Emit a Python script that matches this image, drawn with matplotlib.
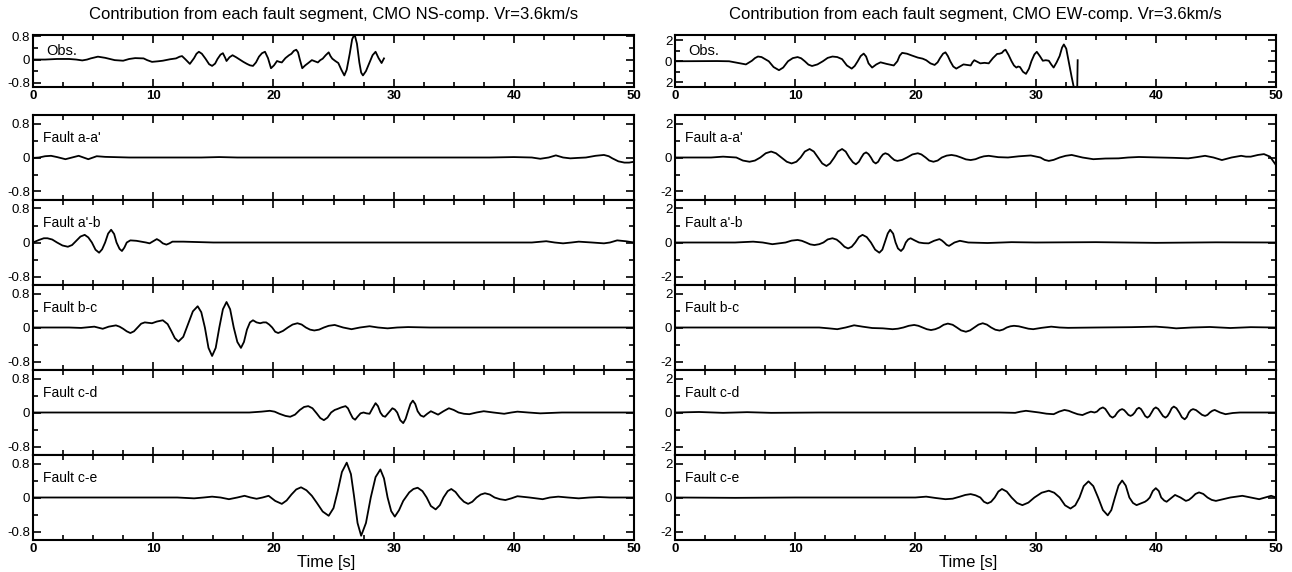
import matplotlib
matplotlib.use("Agg")
import matplotlib.pyplot as plt
from matplotlib.ticker import MultipleLocator, FixedLocator

# ---- NS component (left) ----
ns_obs_t = [0, 1, 2, 3, 3.6, 4.1, 4.5, 4.8, 5.4, 6.0, 6.8, 7.5, 8.0, 8.5, 9.2, 9.5, 9.9, 10.4, 10.8, 11.4,
            11.9, 12.2, 12.4, 12.7, 13.05, 13.4, 13.6, 13.8, 14.05, 14.35, 14.65, 14.9, 15.15, 15.35, 15.6,
            15.8, 16.0, 16.1, 16.35, 16.6, 16.9, 17.2, 17.5, 17.8, 18.05, 18.3, 18.55, 18.8, 19.05, 19.3,
            19.55, 19.8, 20.05, 20.3, 20.5, 20.7, 21.0, 21.3, 21.5, 21.7, 21.9, 22.05, 22.2, 22.4, 22.65,
            22.9, 23.2, 23.45, 23.7, 23.9, 24.1, 24.35, 24.6, 24.75, 24.9, 25.15, 25.4, 25.65, 25.9, 26.1,
            26.35, 26.55, 26.75, 26.95, 27.15, 27.3, 27.45, 27.7, 28.0, 28.25, 28.5, 28.75, 29.0, 29.2]
ns_obs_v = [0, 0, 0.02, 0.02, 0, -0.03, 0, 0.04, 0.1, 0.06, -0.02, -0.04, 0.02, 0.05, 0.04, -0.02, -0.08,
            -0.06, -0.04, 0.01, 0.04, 0.1, 0.12, 0.0, -0.15, 0.05, 0.2, 0.27, 0.2, 0.03, -0.16, -0.22, -0.14,
            0.02, 0.17, 0.22, 0.05, -0.05, 0.08, 0.15, 0.08, 0.0, -0.08, -0.15, -0.2, -0.22, -0.1, 0.1, 0.22,
            0.27, 0.05, -0.3, -0.2, -0.05, -0.08, -0.1, 0.05, 0.15, 0.2, 0.3, 0.34, 0.25, 0.0, -0.3, -0.2,
            -0.12, -0.02, -0.06, -0.1, -0.02, 0.03, 0.15, 0.25, 0.12, 0.03, -0.05, -0.12, -0.35, -0.55,
            -0.35, 0.2, 0.7, 0.88, 0.55, -0.1, -0.45, -0.55, -0.4, -0.1, 0.15, 0.27, 0.05, -0.12, 0.04]

ns_aa_t = [0, 0.5, 1.0, 1.5, 2.0, 2.7, 3.25, 3.8, 4.2, 4.6, 5.0, 5.3, 6.0, 8, 10, 12, 14, 15.5, 17, 20,
           25, 30, 35, 38, 40, 41.5, 42.2, 42.9, 43.5, 44.1, 44.7, 45.3, 46.0, 46.8, 47.5, 47.9, 48.2,
           48.7, 49.2, 49.6, 50]
ns_aa_v = [-0.01, 0.0, 0.03, 0.04, 0.01, -0.04, 0.0, 0.04, 0.0, -0.04, 0.0, 0.03, 0.015, 0.0, 0.0, 0.0,
           0.0, 0.01, 0.0, 0.0, 0.0, 0.0, 0.0, 0.0, 0.01, 0.0, -0.03, 0.0, 0.05, 0.0, -0.02, -0.01, 0.0,
           0.04, 0.06, 0.03, -0.02, -0.09, -0.12, -0.12, -0.10]

ns_ab_t = [0, 0.5, 0.9, 1.2, 1.6, 2.0, 2.45, 2.9, 3.25, 3.6, 3.95, 4.3, 4.6, 4.9, 5.2, 5.5, 5.75, 6.0,
           6.25, 6.5, 6.75, 6.95, 7.2, 7.4, 7.6, 7.8, 8.1, 8.6, 9.0, 9.4, 9.7, 10.0, 10.3, 10.55, 10.8,
           11.1, 11.35, 11.6, 12.5, 15, 20, 30, 40, 41.5, 42.7, 43.4, 44.1, 44.8, 45.4, 46.5, 47.5, 48.0,
           48.6, 49.3, 50]
ns_ab_v = [0.0, 0.06, 0.1, 0.1, 0.07, 0.0, -0.07, -0.1, -0.06, 0.04, 0.14, 0.18, 0.12, 0.0, -0.17, -0.24,
           -0.16, 0.0, 0.21, 0.3, 0.2, 0.0, -0.15, -0.2, -0.12, 0.0, 0.05, 0.04, 0.02, 0.0, -0.02, 0.03,
           0.08, 0.04, -0.02, -0.05, -0.02, 0.02, 0.02, 0.0, 0.0, 0.0, 0.0, 0.0, 0.03, 0.0, -0.02, 0.0,
           0.02, 0.0, -0.02, 0.0, 0.05, 0.03, 0.0]

ns_bc_t = [0, 3, 4, 5.1, 5.8, 6.3, 6.9, 7.2, 7.5, 7.8, 8.1, 8.4, 8.7, 9.0, 9.3, 9.6, 9.9, 10.3, 10.8,
           11.2, 11.5, 11.8, 12.1, 12.5, 12.9, 13.3, 13.7, 14.0, 14.3, 14.6, 14.9, 15.2, 15.5, 15.8, 16.1,
           16.4, 16.7, 17.0, 17.3, 17.55, 17.8, 18.05, 18.3, 18.6, 18.9, 19.15, 19.4, 19.65, 19.9, 20.15,
           20.4, 20.8, 21.2, 21.6, 22.0, 22.35, 22.7, 23.05, 23.4, 23.8, 24.2, 24.6, 25.1, 25.8, 26.5,
           27.2, 28, 28.7, 29.5, 30.3, 31.2, 33, 50]
ns_bc_v = [0, 0, -0.01, 0.02, -0.03, 0.02, 0.05, 0.02, -0.03, -0.09, -0.13, -0.09, 0.0, 0.09, 0.12, 0.11,
           0.1, 0.14, 0.17, 0.08, -0.08, -0.25, -0.33, -0.22, 0.08, 0.38, 0.5, 0.36, 0.0, -0.48, -0.67,
           -0.48, 0.0, 0.43, 0.6, 0.43, 0.0, -0.34, -0.48, -0.34, -0.05, 0.12, 0.17, 0.12, 0.1, 0.12, 0.12,
           0.07, 0.0, -0.1, -0.13, -0.08, 0.0, 0.07, 0.1, 0.07, 0.0, -0.05, -0.07, -0.05, 0.0, 0.04, 0.06,
           0.0, -0.04, 0.0, 0.03, 0, -0.02, 0, 0.01, 0, 0]

ns_cd_t = [0, 15, 18, 19.0, 19.7, 20.1, 20.5, 21.0, 21.4, 21.8, 22.2, 22.55, 22.9, 23.25, 23.6, 23.9,
           24.2, 24.5, 24.8, 25.1, 25.3, 25.65, 26.0, 26.2, 26.4, 26.6, 26.8, 27.0, 27.25, 27.5, 27.75,
           28.0, 28.25, 28.5, 28.7, 28.9, 29.1, 29.3, 29.6, 29.9, 30.1, 30.3, 30.55, 30.8, 31.0, 31.2,
           31.4, 31.6, 31.8, 32.0, 32.25, 32.5, 32.8, 33.1, 33.4, 33.7, 34.15, 34.6, 35.0, 35.4, 35.85,
           36.3, 36.9, 37.5, 38.3, 39.2, 39.8, 40.3, 41.2, 42.2, 44, 50]
ns_cd_v = [0, 0, 0.0, 0.02, 0.04, 0.02, -0.03, -0.08, -0.1, -0.05, 0.06, 0.13, 0.15, 0.1, -0.02, -0.13,
           -0.18, -0.12, 0.0, 0.06, 0.08, 0.12, 0.15, 0.1, -0.02, -0.13, -0.17, -0.1, -0.02, 0.0, -0.02,
           -0.03, 0.1, 0.22, 0.15, 0.0, -0.08, -0.1, 0.0, 0.1, 0.07, 0.0, -0.18, -0.25, -0.15, 0.03, 0.2,
           0.28, 0.2, 0.03, -0.07, -0.1, -0.03, 0.03, -0.01, -0.05, 0.03, 0.1, 0.06, 0.0, -0.03, -0.04,
           0.0, 0.03, 0.0, -0.03, 0, 0.02, 0, -0.02, 0, 0]

ns_ce_t = [0, 12, 13.4, 14.2, 14.9, 15.6, 16.3, 17.0, 17.6, 18.1, 18.6, 19.1, 19.6, 20.15, 20.7, 21.1,
           21.5, 21.9, 22.3, 22.75, 23.2, 23.6, 24.1, 24.6, 25.0, 25.35, 25.7, 26.1, 26.45, 26.7, 27.0,
           27.3, 27.7, 28.1, 28.5, 28.9, 29.2, 29.5, 29.8, 30.1, 30.45, 30.8, 31.3, 31.65, 32.0, 32.4,
           32.75, 33.1, 33.5, 33.85, 34.15, 34.5, 34.8, 35.15, 35.5, 35.85, 36.2, 36.55, 36.9, 37.25,
           37.6, 38.0, 38.4, 38.85, 39.3, 39.8, 40.3, 41.3, 42.4, 43.0, 43.7, 44.5, 45.4, 46.3, 47.1,
           48, 50]
ns_ce_v = [0, 0, -0.02, 0, 0.02, 0, -0.04, 0, 0.04, 0, -0.03, 0, 0.04, -0.08, -0.15, -0.07, 0.07, 0.19,
           0.24, 0.17, 0.04, -0.12, -0.33, -0.43, -0.25, 0.15, 0.6, 0.82, 0.55, 0.05, -0.6, -0.9, -0.6,
           0.0, 0.48, 0.66, 0.45, 0.0, -0.32, -0.45, -0.3, -0.08, 0.12, 0.2, 0.23, 0.15, 0.0, -0.2, -0.28,
           -0.18, 0.0, 0.15, 0.2, 0.13, 0.0, -0.1, -0.15, -0.1, 0.0, 0.07, 0.1, 0.07, 0.0, -0.04, -0.06,
           -0.02, 0.03, 0.0, -0.04, 0.0, 0.02, 0, -0.02, 0, 0.01, 0, 0]

# ---- EW component (right) ----
ew_obs_t = [0, 3.5, 4.5, 5.2, 5.9, 6.4, 6.65, 6.9, 7.2, 7.8, 8.2, 8.65, 9.0, 9.4, 9.8, 10.2, 10.5, 10.8,
            11.1, 11.4, 11.85, 12.3, 12.7, 13.1, 13.5, 13.9, 14.3, 14.7, 14.95, 15.2, 15.45, 15.7, 15.9,
            16.1, 16.4, 16.75, 17.1, 17.6, 18.2, 18.5, 18.7, 18.9, 19.3, 19.7, 20.2, 20.6, 20.9, 21.25,
            21.6, 21.85, 22.05, 22.3, 22.5, 22.7, 22.9, 23.15, 23.4, 23.7, 24.0, 24.3, 24.6, 24.75, 24.9,
            25.15, 25.4, 25.75, 26.1, 26.45, 26.8, 27.0, 27.2, 27.35, 27.5, 27.75, 28.0, 28.2, 28.4, 28.55,
            28.7, 28.95, 29.2, 29.45, 29.65, 29.9, 30.1, 30.35, 30.6, 30.85, 31.1, 31.3, 31.5, 31.75, 32.0,
            32.2, 32.35, 32.55, 32.7, 32.85, 33.0, 33.2, 33.45, 33.5]
ew_obs_v = [0, 0.02, 0.0, -0.15, -0.3, 0.05, 0.3, 0.45, 0.4, 0.0, -0.55, -0.85, -0.6, 0.0, 0.3, 0.4, 0.28,
            0.0, -0.32, -0.45, -0.3, 0.0, 0.32, 0.45, 0.4, 0.2, -0.4, -0.7, -0.45, 0.0, 0.5, 0.73, 0.45,
            -0.2, -0.6, -0.3, -0.1, -0.25, -0.4, 0.0, 0.55, 0.8, 0.72, 0.55, 0.35, 0.25, 0.1, -0.2, -0.35,
            -0.1, 0.3, 0.72, 0.85, 0.5, 0.0, -0.5, -0.7, -0.5, -0.3, -0.35, -0.4, -0.1, 0.1, -0.05, -0.2,
            -0.15, -0.2, 0.3, 0.7, 0.72, 0.8, 1.0, 1.1, 0.6, 0.0, -0.4, -0.6, -0.5, -0.55, -1.0, -1.2,
            -0.7, 0.0, 0.65, 0.9, 0.5, 0.05, 0.1, 0.05, -0.3, -0.6, -0.1, 0.5, 1.3, 1.6, 1.2, 0.3, -0.6,
            -1.5, -2.6, -3.5, 0.1]

ew_aa_t = [0, 3, 4, 5.1, 5.65, 6.2, 6.65, 7.1, 7.55, 8.0, 8.4, 8.85, 9.3, 9.7, 10.1, 10.45, 10.8, 11.2,
           11.55, 11.9, 12.25, 12.6, 12.9, 13.25, 13.55, 13.9, 14.2, 14.5, 14.8, 15.05, 15.3, 15.5, 15.7,
           15.9, 16.1, 16.3, 16.5, 16.7, 16.9, 17.1, 17.3, 17.5, 17.75, 18.0, 18.25, 18.5, 18.9, 19.3,
           19.75, 20.2, 20.5, 20.85, 21.15, 21.5, 21.85, 22.2, 22.6, 23.0, 23.4, 23.8, 24.2, 24.6, 25.0,
           25.35, 25.7, 26.1, 26.9, 27.7, 28.6, 29.6, 30.4, 30.75, 31.1, 31.5, 32.0, 32.5, 33, 33.9,
           34.8, 35.8, 36.9, 37.7, 38.6, 40.3, 41.5, 42.7, 43.4, 44.1, 44.8, 45.5, 46.3, 47.1, 47.5,
           47.9, 48.5, 49.0, 49.5, 49.8, 50]
ew_aa_v = [0, 0, 0.05, 0.0, -0.18, -0.25, -0.18, 0.0, 0.25, 0.35, 0.25, 0.0, -0.25, -0.35, -0.25, 0.0,
           0.35, 0.5, 0.35, 0.0, -0.35, -0.5, -0.35, 0.0, 0.35, 0.5, 0.35, 0.0, -0.28, -0.4, -0.25, 0.0,
           0.22, 0.3, 0.2, 0.0, -0.25, -0.35, -0.25, 0.0, 0.18, 0.25, 0.18, 0.0, -0.15, -0.2, -0.14, 0.0,
           0.18, 0.25, 0.18, 0.0, -0.18, -0.25, -0.18, 0.0, 0.11, 0.15, 0.1, 0.0, -0.11, -0.15, -0.1, 0.0,
           0.07, 0.1, 0.02, 0.0, 0.07, 0.12, 0.0, -0.14, -0.2, -0.14, 0.0, 0.1, 0.15, 0.0, -0.1, -0.06,
           -0.05, 0, 0.03, 0.0, -0.02, -0.05, 0.02, 0.1, 0.0, -0.15, 0.0, 0.1, 0.05, 0.05, 0.15, 0.2, 0.05,
           -0.25, -0.45]

ew_ab_t = [0, 5, 6.5, 7.3, 8.1, 9.2, 9.7, 10.2, 10.55, 10.9, 11.25, 11.6, 12.0, 12.35, 12.7, 13.1, 13.45,
           13.75, 14.1, 14.4, 14.7, 15.0, 15.3, 15.6, 15.95, 16.3, 16.65, 17.0, 17.25, 17.45, 17.7, 17.9,
           18.15, 18.35, 18.55, 18.8, 19.0, 19.2, 19.4, 19.6, 19.95, 20.3, 20.7, 21.1, 21.55, 22.0, 22.2,
           22.4, 22.6, 22.8, 23.25, 23.7, 24.05, 24.4, 26, 28, 30, 35, 40, 45, 50]
ew_ab_v = [0, 0, 0.05, 0.0, -0.1, 0.0, 0.11, 0.15, 0.1, 0.0, -0.11, -0.15, -0.1, 0.0, 0.18, 0.25, 0.17,
           0.0, -0.25, -0.35, -0.25, 0.0, 0.32, 0.45, 0.32, 0.0, -0.42, -0.6, -0.42, 0.0, 0.53, 0.75, 0.52,
           0.0, -0.35, -0.5, -0.35, 0.0, 0.18, 0.25, 0.12, 0.0, -0.04, -0.05, 0.1, 0.2, 0.12, 0.0, -0.14,
           -0.2, 0.0, 0.1, 0.05, 0.0, -0.03, 0.02, 0, 0.02, -0.02, 0.01, 0]

ew_bc_t = [0, 12, 12.8, 13.5, 14.2, 14.9, 15.6, 16.4, 17.3, 18.1, 18.55, 19.0, 19.45, 19.9, 20.25, 20.6,
           20.95, 21.3, 21.65, 22.0, 22.35, 22.7, 23.1, 23.45, 23.8, 24.2, 24.55, 24.9, 25.25, 25.6, 25.95,
           26.3, 26.65, 27.0, 27.3, 27.6, 27.9, 28.2, 28.6, 29.0, 29.4, 29.8, 30.5, 31.3, 32.0, 32.7, 35.1,
           38, 40, 41, 41.7, 43, 44.5, 46.2, 47.9, 50]
ew_bc_v = [0, 0, -0.05, -0.1, 0.0, 0.13, 0.05, -0.03, -0.05, -0.1, -0.07, 0.0, 0.1, 0.15, 0.1, 0.0, -0.1,
           -0.15, -0.1, 0.0, 0.16, 0.23, 0.16, 0.0, -0.17, -0.25, -0.17, 0.0, 0.17, 0.25, 0.17, 0.0, -0.13,
           -0.18, -0.12, 0.0, 0.07, 0.1, 0.07, 0.0, -0.07, -0.1, -0.02, 0.05, 0.0, -0.02, 0, 0.02, 0.05,
           0, -0.05, 0, 0.03, -0.03, 0.02, 0]

ew_cd_t = [0, 2, 4, 6, 8, 12, 20, 27, 28.3, 28.75, 29.2, 29.75, 30.3, 30.9, 31.5, 31.95, 32.4, 32.75,
           33.1, 33.5, 33.9, 34.25, 34.6, 34.9, 35.1, 35.35, 35.6, 35.8, 36.0, 36.2, 36.4, 36.6, 36.8,
           37.0, 37.2, 37.37, 37.55, 37.72, 37.9, 38.07, 38.25, 38.42, 38.6, 38.77, 38.95, 39.12, 39.3,
           39.47, 39.65, 39.82, 40.0, 40.2, 40.4, 40.6, 40.8, 40.97, 41.15, 41.32, 41.5, 41.72, 41.95,
           42.17, 42.4, 42.57, 42.75, 42.92, 43.1, 43.35, 43.6, 43.85, 44.1, 44.3, 44.5, 44.7, 44.9,
           45.35, 45.8, 46.4, 47, 50]
ew_cd_v = [0, 0.03, -0.02, 0.02, -0.02, 0, 0, 0, -0.02, 0.05, 0.1, 0.05, 0.0, -0.07, -0.1, 0.05, 0.15,
           0.1, 0.0, -0.1, -0.15, -0.04, 0.05, 0.0, 0.05, 0.22, 0.3, 0.21, 0.0, -0.21, -0.3, -0.21, 0.0,
           0.14, 0.2, 0.14, 0.0, -0.14, -0.2, -0.14, 0.0, 0.2, 0.28, 0.2, 0.0, -0.21, -0.3, -0.21, 0.0,
           0.21, 0.3, 0.21, 0.0, -0.21, -0.3, -0.21, 0.0, 0.25, 0.35, 0.25, 0.0, -0.28, -0.4, -0.28, 0.0,
           0.14, 0.2, 0.14, 0.0, -0.14, -0.2, -0.14, 0.0, 0.1, 0.15, 0.0, -0.1, -0.03, 0.0, 0]

ew_ce_t = [0, 5, 10, 15, 20, 20.9, 21.7, 22.5, 23.1, 23.7, 24.15, 24.6, 25.0, 25.4, 25.7, 26.0, 26.3,
           26.6, 26.9, 27.2, 27.6, 28.0, 28.45, 28.9, 29.4, 29.9, 30.5, 31.1, 31.55, 32.0, 32.45, 32.9,
           33.3, 33.65, 34.0, 34.4, 34.8, 35.2, 35.6, 36.0, 36.3, 36.6, 36.9, 37.2, 37.5, 37.8, 38.1,
           38.4, 38.75, 39.1, 39.3, 39.5, 39.75, 40.0, 40.25, 40.45, 40.7, 40.9, 41.25, 41.6, 42.05, 42.5,
           42.75, 43.0, 43.3, 43.6, 43.95, 44.3, 44.65, 45.0, 45.6, 46.2, 47.2, 47.9, 48.6, 49.1, 49.6, 50]
ew_ce_v = [0, -0.02, 0, 0, 0.0, 0.05, -0.03, -0.1, -0.07, 0.05, 0.15, 0.2, 0.13, 0.0, -0.25, -0.35,
           -0.25, 0.0, 0.35, 0.5, 0.35, 0.0, -0.32, -0.45, -0.3, 0.0, 0.28, 0.4, 0.28, 0.0, -0.46, -0.65,
           -0.46, 0.0, 0.67, 0.95, 0.67, 0.0, -0.74, -1.05, -0.74, 0.0, 0.7, 1.0, 0.7, 0.0, -0.32, -0.45,
           -0.35, -0.25, -0.15, 0.0, 0.38, 0.55, 0.38, 0.0, -0.18, -0.25, -0.05, 0.15, 0.0, -0.2, -0.14,
           0.0, 0.21, 0.3, 0.21, 0.0, -0.14, -0.2, -0.1, 0.0, 0.1, 0.0, -0.1, 0.0, 0.1, 0]

fault_names = ["Fault a-a'", "Fault a'-b", "Fault b-c", "Fault c-d", "Fault c-e"]
ns_faults = [(ns_aa_t, ns_aa_v), (ns_ab_t, ns_ab_v), (ns_bc_t, ns_bc_v), (ns_cd_t, ns_cd_v), (ns_ce_t, ns_ce_v)]
ew_faults = [(ew_aa_t, ew_aa_v), (ew_ab_t, ew_ab_v), (ew_bc_t, ew_bc_v), (ew_cd_t, ew_cd_v), (ew_ce_t, ew_ce_v)]

titles = ["Contribution from each fault segment, CMO NS-comp. Vr=3.6km/s",
          "Contribution from each fault segment, CMO EW-comp. Vr=3.6km/s"]
x_major = [0, 10, 20, 30, 40, 50]

W, H = 1292, 572
NARROW = ["Liberation Sans Narrow", "Liberation Sans", "DejaVu Sans"]
SANS = ["Liberation Sans", "DejaVu Sans"]
plt.rcParams['font.family'] = SANS


def px_box(left, top, width, height):
    return [left / W, 1 - (top + height) / H, width / W, height / H]


def style_axis(ax, ylim, major, minor, ylabels, show_x):
    ax.set_xlim(0, 50)
    ax.set_ylim(*ylim)
    ax.xaxis.set_major_locator(FixedLocator(x_major))
    ax.xaxis.set_minor_locator(MultipleLocator(2.5))
    ax.yaxis.set_major_locator(FixedLocator(major))
    ax.yaxis.set_minor_locator(FixedLocator(minor))
    ax.set_yticklabels(ylabels, family=NARROW, fontsize=9.5)
    ax.tick_params(which='both', direction='in', top=True, right=True, width=1.2)
    ax.tick_params(which='major', length=6, pad=2)
    ax.tick_params(which='minor', length=3.5)
    if show_x:
        ax.set_xticklabels([str(x) for x in x_major], family=NARROW, fontsize=9.5, fontweight='bold')
    else:
        ax.set_xticklabels([])
    for s in ax.spines.values():
        s.set_linewidth(1.5)


fig = plt.figure(figsize=(W / 100, H / 100), dpi=100)

# whole-pixel panel edges so shared borders stay one line thick
fault_tops = [115, 200, 285, 370, 455]
fault_h = 85
panels = [
    (33, titles[0], (ns_obs_t, ns_obs_v), ns_faults, (-0.95, 0.85), (-1.0, 1.0),
     [-0.8, 0, 0.8], [-0.4, 0.4], ["-0.8", "0", "0.8"], ["-0.8", "0", "0.8"]),
    (675, titles[1], (ew_obs_t, ew_obs_v), ew_faults, (-2.45, 2.5), (-2.5, 2.5),
     [-2, 0, 2], [-1, 1], ["2", "0", "2"], ["-2", "0", "2"]),
]

for left, title, obs, faults, obs_lim, f_lim, major, minor, obs_lab, f_lab in panels:
    width = 601
    fig.text((left + width / 2) / W, 1 - 14 / H, title, ha='center', va='center', fontsize=12)

    ax = fig.add_axes(px_box(left, 35, width, 52))
    ax.plot(obs[0], obs[1], color='black', lw=1.3)
    style_axis(ax, obs_lim, major, minor, obs_lab, True)
    ax.text(0.022, 0.70, "Obs.", transform=ax.transAxes, fontsize=10.5, va='center')

    for i, (top, name, (t, v)) in enumerate(zip(fault_tops, fault_names, faults)):
        ax = fig.add_axes(px_box(left, top, width, fault_h))
        ax.plot(t, v, color='black', lw=1.3)
        last = i == len(faults) - 1
        style_axis(ax, f_lim, major, minor, f_lab, last)
        ax.text(0.016, 0.73, name, transform=ax.transAxes, fontsize=10, va='center')
        if last:
            ax.text(0.487, -0.26, "Time [s]", transform=ax.transAxes, fontsize=12,
                    ha='center', va='center')

fig.savefig("out.png", dpi=100)
